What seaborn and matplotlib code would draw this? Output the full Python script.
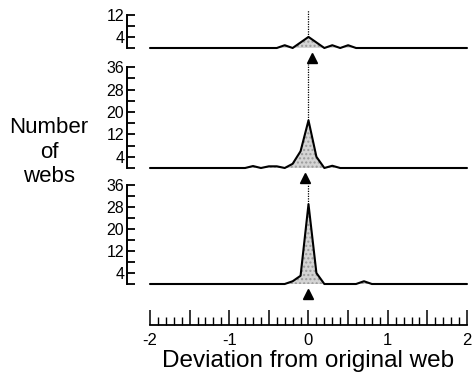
import matplotlib
matplotlib.use("Agg")
import matplotlib.pyplot as plt
import seaborn as sns
import pandas as pd

# deviation from original web (x) and number of webs (y) for each panel
top_x = [-2.0, -0.4, -0.3, -0.2, -0.1, 0.0, 0.1, 0.2, 0.3, 0.4, 0.5, 0.6, 2.0]
top_y = [0, 0, 1, 0, 2, 4, 2, 0, 1, 0, 1, 0, 0]

mid_x = [-2.0, -0.8, -0.7, -0.6, -0.5, -0.4, -0.3, -0.2, -0.1, 0.0, 0.1, 0.2, 0.3, 0.4, 2.0]
mid_y = [0, 0, 0.7, 0, 0.6, 0.6, 0, 1.5, 6, 17, 4, 0, 0.8, 0, 0]

bot_x = [-2.0, -0.3, -0.2, -0.1, 0.0, 0.1, 0.2, 0.6, 0.7, 0.8, 2.0]
bot_y = [0, 0, 1, 3, 29, 4, 0, 0, 1, 0, 0]

# mean deviation markers (triangles)
arrow_x = [0.05, -0.04, 0.0]

top_ticks = [0, 4, 8, 12]
big_ticks = [0, 4, 8, 12, 16, 20, 24, 28, 32, 36]
scale_major = [-2, -1.5, -1, -0.5, 0, 0.5, 1, 1.5, 2]
scale_labels = ["-2", "", "-1", "", "0", "", "1", "", "2"]

sns.set_style("white")
plt.rcParams["font.family"] = ["Liberation Sans", "DejaVu Sans"]
plt.rcParams["text.color"] = "black"
plt.rcParams["xtick.color"] = "black"
plt.rcParams["ytick.color"] = "black"

W, H = 477, 376
fig = plt.figure(figsize=(W / 100, H / 100), dpi=100)

left = 127 / W
width = (467 - 127) / W
xlim = (-2.29, 2.0)


def panel(bottom_px, top_px, ytop, xs, ys, ticks, ymax, ax_x):
    ax = fig.add_axes([left, (H - bottom_px) / H, width, (bottom_px - top_px) / H])
    df = pd.DataFrame({"dev": xs, "n": ys})
    ax.fill_between(df["dev"], 0, df["n"], color="#d4d4d4", hatch="....",
                    edgecolor="#9a9a9a", linewidth=0)
    sns.lineplot(data=df, x="dev", y="n", ax=ax, color="black", lw=1.5,
                 sort=False, clip_on=False)
    peak = max(ys)
    ax.vlines(0, peak, ytop, colors="black", linestyles=(0, (1, 1)), lw=0.9)
    ax.plot([ax_x], [-10 / 2.77], marker="^", color="black", ms=7.5,
            clip_on=False, ls="none")
    ax.set_xlim(*xlim)
    ax.set_ylim(0, ytop)
    for s in ["top", "right", "bottom"]:
        ax.spines[s].set_visible(False)
    ax.spines["left"].set_bounds(0, ymax)
    ax.spines["left"].set_linewidth(1.4)
    ax.spines["left"].set_color("black")
    ax.set_xticks([])
    ax.set_yticks(ticks)
    ax.set_yticklabels([str(t) if t % 8 == 4 else "" for t in ticks])
    ax.tick_params(axis="y", direction="in", length=6, width=1.3, pad=2,
                   labelsize=11.5, left=True, colors="black")
    ax.set_xlabel("")
    ax.set_ylabel("")
    ax.patch.set_alpha(0)
    return ax


panel(48, 10, 38 / 2.77, top_x, top_y, top_ticks, 12, arrow_x[0])
panel(168, 64, 104 / 2.8, mid_x, mid_y, big_ticks, 36, arrow_x[1])
panel(284, 185, 99 / 2.75, bot_x, bot_y, big_ticks, 36, arrow_x[2])

# scale bar axis at the bottom
sx = fig.add_axes([left, (H - 325) / H, width, 20 / H])
sx.set_xlim(*xlim)
sx.set_yticks([])
for s in ["top", "right", "left"]:
    sx.spines[s].set_visible(False)
sx.spines["bottom"].set_bounds(-2, 2)
sx.spines["bottom"].set_linewidth(1.3)
sx.spines["bottom"].set_color("black")
sx.set_xticks(scale_major)
sx.set_xticklabels(scale_labels)
sx.set_xticks([i / 10 for i in range(-20, 21)], minor=True)
sx.tick_params(axis="x", which="major", direction="in", length=10.5, width=1.1,
               pad=6, labelsize=12, bottom=True, colors="black")
sx.tick_params(axis="x", which="minor", direction="in", length=5.5, width=1.0,
               bottom=True, colors="black")
sx.patch.set_alpha(0)

fig.text(308 / W, 1 - 367 / H, "Deviation from original web", ha="center",
         va="baseline", fontsize=17.5, color="black")
fig.text(49 / W, 1 - 152 / H, "Number\nof\nwebs", ha="center", va="center",
         fontsize=16, linespacing=1.2, color="black")

fig.savefig("out.png", dpi=100)
